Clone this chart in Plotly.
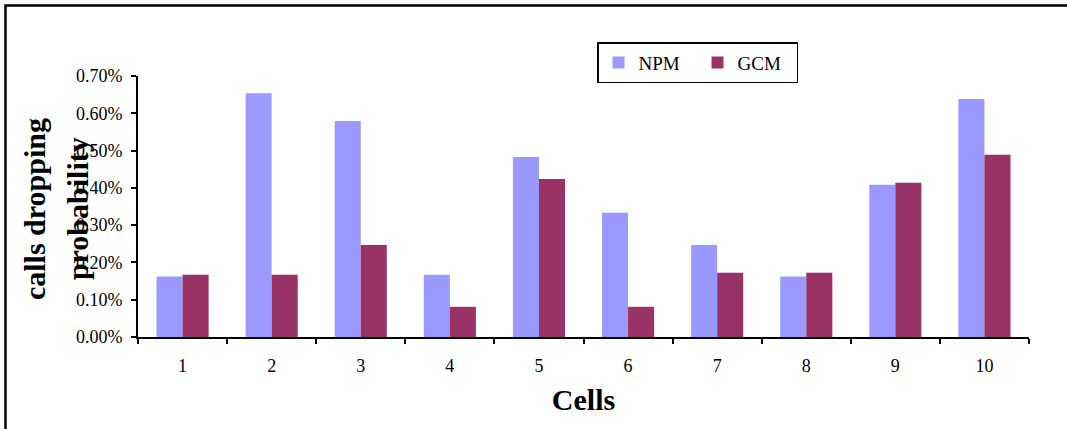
import plotly.graph_objects as go

cells = ["1", "2", "3", "4", "5", "6", "7", "8", "9", "10"]
npm = [0.00162, 0.00654, 0.00579, 0.00167, 0.00483, 0.00333, 0.00247, 0.00162, 0.00408, 0.00638]
gcm = [0.00167, 0.00167, 0.00247, 0.00081, 0.00424, 0.00081, 0.00172, 0.00172, 0.00414, 0.00489]
y_ticks = [0, 0.001, 0.002, 0.003, 0.004, 0.005, 0.006, 0.007]

FONT = "Liberation Serif"

fig = go.Figure()
fig.add_trace(go.Bar(name="NPM", x=cells, y=npm, marker=dict(color="#9999FF", line=dict(width=0))))
fig.add_trace(go.Bar(name="GCM", x=cells, y=gcm, marker=dict(color="#993366", line=dict(width=0))))

fig.update_layout(
    width=1067, height=429,
    margin=dict(l=138, r=38, t=76, b=92),
    paper_bgcolor="white", plot_bgcolor="white",
    barmode="group", bargap=0.415, bargroupgap=0,
    font=dict(family=FONT, size=18, color="black"),
    showlegend=True,
    legend=dict(
        orientation="h", x=(597 - 138) / 891, y=1.13, xanchor="left", yanchor="top",
        bordercolor="black", borderwidth=1.5, bgcolor="white",
        font=dict(family=FONT, size=19, color="black"),
        entrywidth=54, itemsizing="constant",
    ),
    xaxis=dict(
        type="category", showline=True, linecolor="black", linewidth=2,
        ticks="outside", tickson="boundaries", ticklen=5, tickwidth=2, tickcolor="black",
        showgrid=False, zeroline=False, ticklabelstandoff=11,
        tickfont=dict(family=FONT, size=18, color="black"),
        title=dict(text="<b>Cells</b>", font=dict(family=FONT, size=30, color="black"), standoff=14),
    ),
    yaxis=dict(
        range=[0, 0.007], tickvals=y_ticks, tickformat=".2%",
        showline=True, linecolor="black", linewidth=2,
        ticks="outside", ticklen=5, tickwidth=2, tickcolor="black",
        showgrid=False, zeroline=False, ticklabelstandoff=5,
        tickfont=dict(family=FONT, size=18, color="black"),
    ),
    shapes=[dict(type="rect", xref="paper", yref="paper",
                 x0=(5.5 - 138) / 891, x1=1.2, y0=-0.6, y1=(337 - 5.5) / 261,
                 line=dict(color="black", width=2.5), fillcolor="rgba(0,0,0,0)", layer="above")],
    annotations=[
        dict(text="<b>calls dropping</b>", xref="paper", yref="paper",
             x=(34 - 138) / 891, y=0.49, textangle=-90, showarrow=False,
             xanchor="center", yanchor="middle",
             font=dict(family=FONT, size=30, color="black")),
        dict(text="<b>probability</b>", xref="paper", yref="paper",
             x=(77 - 138) / 891, y=0.49, textangle=-90, showarrow=False,
             xanchor="center", yanchor="middle",
             font=dict(family=FONT, size=30, color="black")),
    ],
)

fig.write_html("out.html")
